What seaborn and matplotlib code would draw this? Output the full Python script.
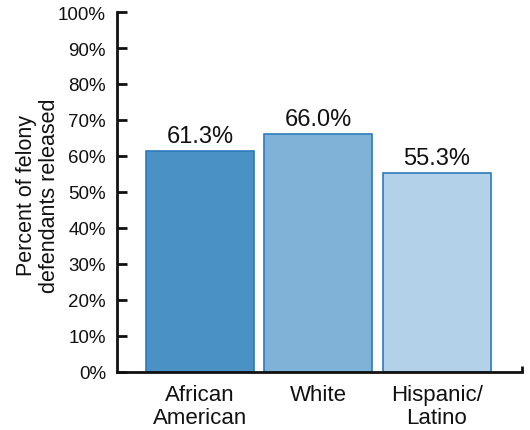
import matplotlib
matplotlib.use("Agg")
import matplotlib.pyplot as plt
import seaborn as sns
import pandas as pd

# Felony defendants released before case disposition, by race/ethnicity
groups = ["African\nAmerican", "White", "Hispanic/\nLatino"]
released_pct = [61.3, 66.0, 55.3]
y_ticks = [0, 10, 20, 30, 40, 50, 60, 70, 80, 90, 100]

bar_colors = ["#4a91c6", "#80b2d8", "#b3d1e9"]
edge_color = "#2c7bbb"
ink = "#111111"

df = pd.DataFrame({"group": groups, "pct": released_pct})

sns.set_style("white")
plt.rcParams["font.family"] = ["Liberation Sans", "DejaVu Sans"]

fig = plt.figure(figsize=(5.30, 4.31), dpi=100)
ax = fig.add_axes([117 / 530, 1 - 373 / 431, (522 - 117) / 530, (373 - 13) / 431])

sns.barplot(data=df, x="group", y="pct", hue="group", palette=bar_colors,
            legend=False, width=0.91, edgecolor=edge_color, linewidth=1.2,
            saturation=1, ax=ax)

for i, v in enumerate(released_pct):
    ax.annotate(f"{v:.1f}%", (i, v), xytext=(0, 3), textcoords="offset points",
                ha="center", va="bottom", fontsize=17, color=ink)

ax.set_ylim(0, 100)
ax.set_xlim(-0.70, 2.72)
ax.set_yticks(y_ticks)
ax.set_yticklabels([f"{t}%" for t in y_ticks], fontsize=13.5)
ax.tick_params(axis="y", direction="in", length=7, width=2, pad=8,
               colors=ink, left=True)
ax.tick_params(axis="x", length=0, labelsize=16, pad=9, colors=ink)
for lbl in ax.get_xticklabels():
    lbl.set_linespacing(1.08)

ax.set_xlabel("")
ax.set_ylabel("")
fig.text(38 / 530, 1 - 196 / 431, "Percent of felony\ndefendants released",
         rotation=90, ha="center", va="center", fontsize=15.5, color=ink,
         linespacing=1.15)

for side in ["top", "right"]:
    ax.spines[side].set_visible(False)
for side in ["left", "bottom"]:
    ax.spines[side].set_linewidth(2)
    ax.spines[side].set_color(ink)

# small closing tick at the right end of the baseline
ax.plot([1, 1], [0, 0.016], transform=ax.transAxes, color=ink,
        lw=2, clip_on=False, solid_capstyle="butt")

fig.savefig("out.png", dpi=100)
